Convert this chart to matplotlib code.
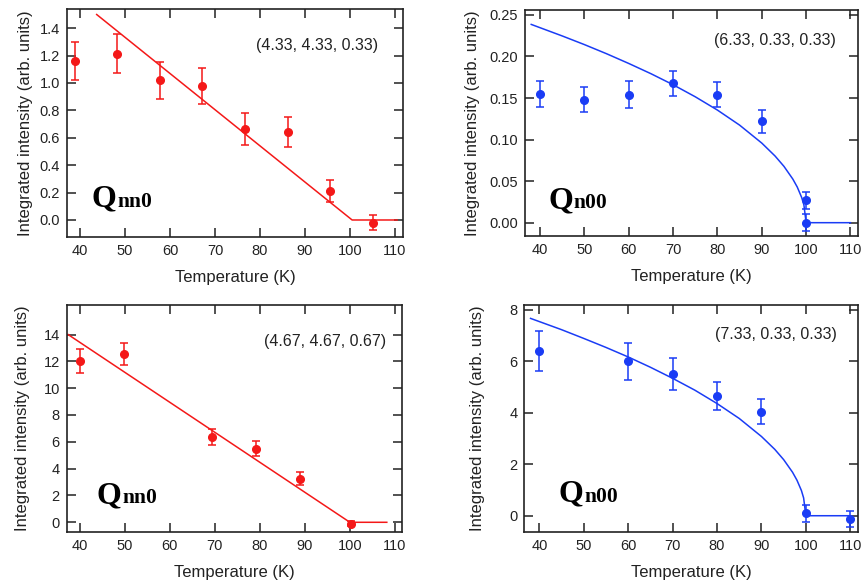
import matplotlib
matplotlib.use('Agg')
import matplotlib.pyplot as plt

plt.rcParams['font.family'] = ['Liberation Sans', 'DejaVu Sans']

red = '#f41818'
blue = '#1a3cf5'

# top left, (4.33, 4.33, 0.33)
tl_T = [38.8, 48.2, 57.8, 67.1, 76.7, 86.2, 95.6, 105.2]
tl_I = [1.16, 1.215, 1.02, 0.98, 0.665, 0.64, 0.21, -0.02]
tl_err = [0.14, 0.145, 0.135, 0.13, 0.115, 0.11, 0.08, 0.055]
tl_fit_T = [43.7, 100.5, 110.5]
tl_fit_I = [1.50, 0.0, 0.0]

# top right, (6.33, 0.33, 0.33)
tr_T = [40, 50, 60, 70, 80, 90, 100, 100]
tr_I = [0.155, 0.148, 0.154, 0.168, 0.154, 0.122, 0.027, 0.0]
tr_err = [0.0155, 0.015, 0.016, 0.015, 0.015, 0.0135, 0.0105, 0.01]
tr_fit_T = [38, 45, 50, 55, 60, 65, 70, 75, 80, 85, 90, 93, 95, 97, 98, 99, 99.5, 100, 110]
tr_fit_I = [0.2386, 0.2247, 0.2143, 0.2033, 0.1916, 0.1793, 0.1660, 0.1515, 0.1355,
            0.1174, 0.0958, 0.0802, 0.0678, 0.0525, 0.0429, 0.0303, 0.0214, 0.0, 0.0]

# bottom left, (4.67, 4.67, 0.67)
bl_T = [40.0, 49.8, 69.3, 79.2, 89.0, 100.3]
bl_I = [12.0, 12.55, 6.35, 5.5, 3.25, -0.1]
bl_err = [0.9, 0.85, 0.62, 0.55, 0.48, 0.2]
bl_fit_T = [37.4, 100.0, 108.2]
bl_fit_I = [14.0, 0.0, 0.0]

# bottom right, (7.33, 0.33, 0.33)
br_T = [40, 60, 70, 80, 90, 100, 110]
br_I = [6.4, 6.0, 5.5, 4.65, 4.05, 0.1, -0.12]
br_err = [0.78, 0.71, 0.62, 0.55, 0.5, 0.33, 0.3]
br_fit_T = [38, 45, 50, 55, 60, 65, 70, 75, 80, 85, 90, 93, 95, 97, 98, 99, 99.5, 100, 110]
br_fit_I = [7.67, 7.23, 6.89, 6.54, 6.17, 5.77, 5.34, 4.88, 4.36, 3.78, 3.08, 2.58, 2.18,
            1.69, 1.38, 0.98, 0.69, 0.0, 0.0]

panels = [
    dict(rect=[0.0778, 0.5956, 0.3902, 0.389], T=tl_T, I=tl_I, err=tl_err, fT=tl_fit_T, fI=tl_fit_I,
         c=red, xlim=(37.1, 111.8), ylim=(-0.124, 1.54), yticks=[0, 0.2, 0.4, 0.6, 0.8, 1.0, 1.2, 1.4],
         fmt='%.1f', hkl='(4.33, 4.33, 0.33)', hpos=(0.926, 0.842), q='nn0', qpos=(0.0735, 0.133), pad=5),
    dict(rect=[0.6098, 0.5973, 0.3867, 0.3857], T=tr_T, I=tr_I, err=tr_err, fT=tr_fit_T, fI=tr_fit_I,
         c=blue, xlim=(36.6, 111.7), ylim=(-0.016, 0.256), yticks=[0, 0.05, 0.1, 0.15, 0.2, 0.25],
         fmt='%.2f', hkl='(6.33, 0.33, 0.33)', hpos=(0.935, 0.867), q='n00', qpos=(0.07, 0.124), pad=7),
    dict(rect=[0.0775, 0.0927, 0.389, 0.3868], T=bl_T, I=bl_I, err=bl_err, fT=bl_fit_T, fI=bl_fit_I,
         c=red, xlim=(37.1, 111.5), ylim=(-0.7, 16.2), yticks=[0, 2, 4, 6, 8, 10, 12, 14],
         fmt='%d', hkl='(4.67, 4.67, 0.67)', hpos=(0.955, 0.838), q='nn0', qpos=(0.0896, 0.125), pad=10),
    dict(rect=[0.609, 0.0927, 0.3878, 0.3868], T=br_T, I=br_I, err=br_err, fT=br_fit_T, fI=br_fit_I,
         c=blue, xlim=(36.6, 111.8), ylim=(-0.62, 8.19), yticks=[0, 2, 4, 6, 8],
         fmt='%d', hkl='(7.33, 0.33, 0.33)', hpos=(0.935, 0.868), q='n00', qpos=(0.102, 0.132), pad=17.5),
]

fig = plt.figure(figsize=(8.61, 5.86), dpi=100)

for p in panels:
    ax = fig.add_axes(p['rect'])
    ax.plot(p['fT'], p['fI'], '-', color=p['c'], lw=1.1, zorder=2)
    ax.errorbar(p['T'], p['I'], yerr=p['err'], fmt='o', color=p['c'], ms=5.5,
                elinewidth=1.1, capsize=3, capthick=1.1, zorder=3)
    ax.set_xlim(*p['xlim'])
    ax.set_ylim(*p['ylim'])
    ax.set_xticks([40, 50, 60, 70, 80, 90, 100, 110])
    ax.set_yticks(p['yticks'])
    ax.yaxis.set_major_formatter(matplotlib.ticker.FormatStrFormatter(p['fmt']))
    ax.tick_params(direction='in', top=True, right=True, length=6.5, width=1.1,
                   labelsize=10.5, colors='#222222', pad=5)
    for s in ax.spines.values():
        s.set_linewidth(1.2)
        s.set_color('#222222')
    ax.set_xlabel('Temperature (K)', fontsize=12, color='#222222', labelpad=9)
    ax.set_ylabel('Integrated intensity (arb. units)', fontsize=12, color='#222222', labelpad=p['pad'])
    ax.text(p['hpos'][0], p['hpos'][1], p['hkl'], transform=ax.transAxes, ha='right',
            va='center', fontsize=11.5, color='#222222')
    qt = ax.annotate('Q', xy=p['qpos'], xycoords='axes fraction', ha='left', va='baseline',
                     fontsize=23, fontweight='bold', family='Liberation Serif')
    ax.annotate(p['q'], xy=(1, 0), xycoords=qt, xytext=(0.5, 1.5), textcoords='offset points',
                ha='left', va='bottom', fontsize=15.5, fontweight='bold', family='Liberation Serif')

fig.savefig('out.png', dpi=100)
